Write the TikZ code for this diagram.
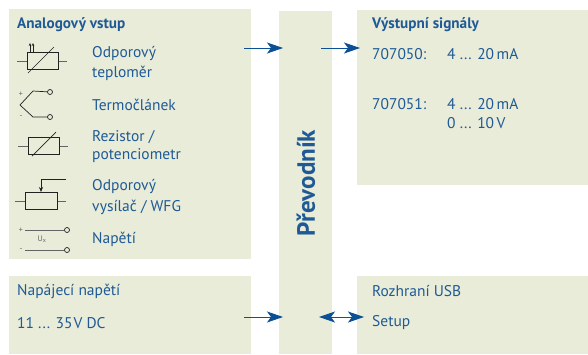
\documentclass[tikz,border=0pt]{standalone}
\usepackage{fontspec}
\setmainfont{PT Sans}
\usetikzlibrary{arrows.meta}
\definecolor{boxgreen}{HTML}{E8ECD8}
\definecolor{textblue}{HTML}{1F5A96}
\definecolor{arrowblue}{HTML}{0B4F94}
\definecolor{symgray}{HTML}{222222}
\begin{document}
\begin{tikzpicture}[x=1pt,y=-1pt]
	\tikzstyle{block}=[fill=boxgreen,anchor=north west,inner sep=0pt,outer sep=0pt]
	\tikzstyle{label}=[anchor=west,inner sep=0pt,text=textblue,font=\fontsize{15.5}{18}\selectfont]
	\tikzstyle{heading}=[label,font=\fontsize{15.2}{18}\selectfont\bfseries]
	\tikzstyle{edge}=[draw=arrowblue,line width=1pt,-{Stealth[length=16pt,width=11pt,inset=4pt]}]
	\tikzstyle{biedge}=[draw=arrowblue,line width=1pt,{Stealth[length=16pt,width=11pt,inset=4pt]}-{Stealth[length=16pt,width=11pt,inset=4pt]}]
	\tikzstyle{sym}=[draw=symgray,line width=0.7pt]
	\tikzstyle{lead}=[draw=symgray!70,line width=0.7pt]
	\tikzstyle{pin}=[circle,draw=symgray,fill=boxgreen,line width=0.7pt,inner sep=0pt,minimum size=5pt]
	\tikzstyle{tiny}=[inner sep=0pt,text=symgray!70,font=\fontsize{8}{9}\selectfont]
	\useasboundingbox (0,0) rectangle (588,354);
	% blocks
	\node [block,minimum width=242pt,minimum height=250pt] (input) at (9,9) {};
	\node [block,minimum width=53pt,minimum height=343pt] (conv) at (279,11) {};
	\node [block,minimum width=231pt,minimum height=175pt] (output) at (357,10) {};
	\node [block,minimum width=242pt,minimum height=78pt] (supply) at (9,276) {};
	\node [block,minimum width=231pt,minimum height=78pt] (usb) at (357,276) {};
	% input texts
	\node [heading] (t1) at (17,24.5) {Analogový vstup};
	\node [label] (i1) at (92,54) {Odporový};
	\node [label] (i2) at (92,73) {teploměr};
	\node [label] (i3) at (92,104.5) {Termočlánek};
	\node [label] (i4) at (92,137) {Rezistor /};
	\node [label] (i5) at (92,156) {potenciometr};
	\node [label] (i6) at (92,187) {Odporový};
	\node [label] (i7) at (92,207) {vysílač / WFG};
	\node [label] (i8) at (92,239) {Napětí};
	% converter
	\node [text=textblue,inner sep=0pt,rotate=90,font=\fontsize{25}{30}\selectfont\bfseries] (c1) at (306,183) {Převodník};
	% output texts
	\node [heading] (t2) at (372,24.5) {Výstupní signály};
	\node [label] (o1) at (372,54) {707050:};
	\node [label] (o2) at (447,54) {4 ... 20\,mA};
	\node [label] (o3) at (372,104) {707051:};
	\node [label] (o4) at (447,104) {4 ... 20\,mA};
	\node [label] (o5) at (447,123) {0 ... 10\,V};
	% bottom texts
	\node [label] (s1) at (17,291) {Napájecí napětí};
	\node [label] (s2) at (17,323) {11 ... 35\kern1pt V DC};
	\node [label] (u1) at (372,291) {Rozhraní USB};
	\node [label] (u2) at (372,323) {Setup};
	% arrows
	\coordinate (a1) at (244,48);
	\coordinate (a2) at (283,48);
	\coordinate (a3) at (321,48);
	\coordinate (a4) at (360,48);
	\coordinate (a5) at (244,317);
	\coordinate (a6) at (283,317);
	\coordinate (a7) at (319,317);
	\coordinate (a8) at (364,317);
	\path[edge] (a1) -- (a2);
	\path[edge] (a3) -- (a4);
	\path[edge] (a5) -- (a6);
	\path[biedge] (a7) -- (a8);
	% thermometer symbol
	\draw [lead] (17,61) -- (27,61) (58,61) -- (67,61);
	\draw [sym] (27,52) rectangle (58,69);
	\draw [sym] (28,73) -- (54,47);
	\draw [sym,-{Stealth[length=3pt,width=2.5pt]}] (30,52) -- (30,43);
	\draw [sym,-{Stealth[length=3pt,width=2.5pt]}] (33,52) -- (33,43);
	% thermocouple symbol
	\node [pin] (p1) at (50,92) {};
	\node [pin] (p2) at (50,117) {};
	\draw [sym] (p1) -- (33,91) -- (20,105) -- (33,117) -- (p2);
	\node [tiny] (n1) at (21,94) {+};
	\node [tiny] (n2) at (21,117) {-};
	% resistor symbol
	\draw [lead] (18,146) -- (28,146) (59,146) -- (68,146);
	\draw [sym] (28,137) rectangle (59,154);
	\draw [sym] (32,156) -- (56,132);
	% transmitter symbol
	\draw [lead] (15,201) -- (25,201) (57,201) -- (66,201);
	\draw [sym] (25,192) rectangle (57,209);
	\draw [sym,-{Stealth[length=5pt,width=4pt]}] (66,179) -- (41,179) -- (41,192);
	% voltage symbol
	\node [pin] (p3) at (67,230) {};
	\node [pin] (p4) at (67,250) {};
	\node [tiny] (n3) at (21,230) {+};
	\node [tiny] (n4) at (21,250) {-};
	\draw [lead] (25,230) -- (p3);
	\draw [lead] (25,250) -- (p4);
	\node [tiny] (n5) at (42,239) {U$_\mathrm{x}$};
\end{tikzpicture}
\end{document}
